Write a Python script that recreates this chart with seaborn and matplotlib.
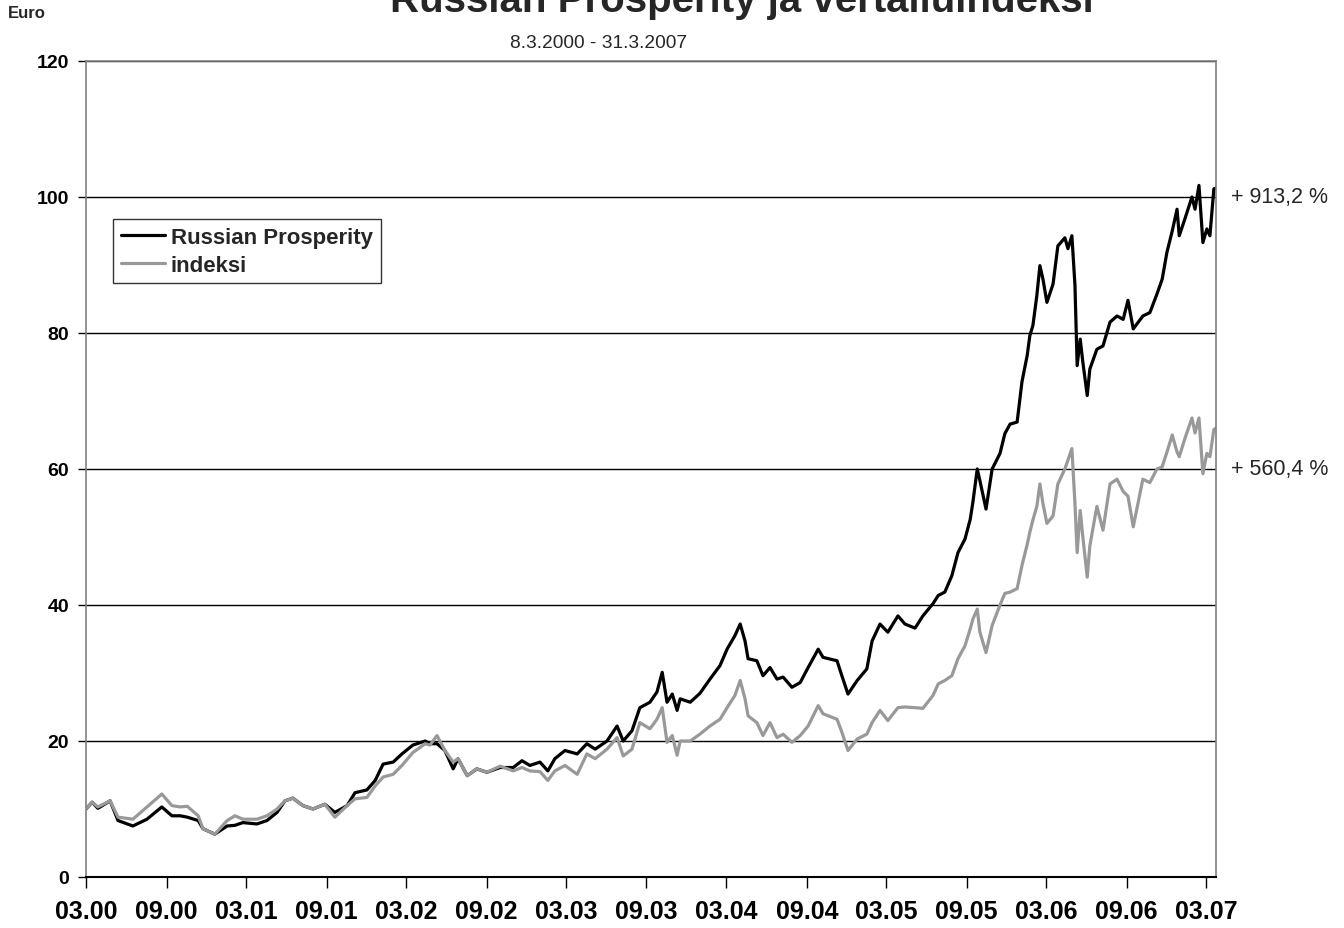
import matplotlib
matplotlib.use("Agg")
import matplotlib.pyplot as plt
import seaborn as sns
import pandas as pd

# days after 8.3.2000
day_offsets = [
    0, 14, 27, 55, 73, 107, 139, 173, 196, 215, 231, 256, 267, 294, 322, 340,
    358, 390, 413, 436, 454, 472, 495, 518, 545, 568, 596, 614, 641, 660, 678,
    701, 721, 746, 774, 785, 801, 819, 838, 849, 870, 892, 915, 945, 975, 995,
    1013, 1036, 1054, 1070, 1093, 1121, 1143, 1162, 1189, 1212, 1226, 1246,
    1264, 1287, 1303, 1315, 1326, 1338, 1349, 1356, 1379, 1401, 1424, 1447,
    1463, 1481, 1493, 1504, 1511, 1531, 1545, 1561, 1577, 1591, 1611, 1630,
    1648, 1671, 1682, 1714, 1725, 1739, 1760, 1782, 1794, 1812, 1830, 1853,
    1869, 1892, 1910, 1933, 1945, 1960, 1976, 1990, 2006, 2018, 2024, 2034,
    2040, 2054, 2068, 2086, 2097, 2109, 2125, 2136, 2148, 2154, 2161, 2170,
    2177, 2184, 2193, 2207, 2218, 2234, 2241, 2250, 2257, 2262, 2269, 2275,
    2285, 2291, 2307, 2321, 2337, 2353, 2367, 2378, 2390, 2412, 2428, 2444,
    2456, 2467, 2479, 2490, 2495, 2508, 2524, 2531, 2540, 2549, 2558, 2565,
    2574, 2579,
]
russian_prosperity = [
    10.0, 11.0, 10.1, 11.2, 8.3, 7.5, 8.5, 10.3, 9.0, 9.0, 8.8, 8.3, 7.1, 6.3,
    7.5, 7.6, 8.0, 7.8, 8.3, 9.5, 11.2, 11.6, 10.5, 10.0, 10.7, 9.5, 10.5,
    12.4, 12.8, 14.2, 16.6, 16.9, 18.1, 19.4, 20.0, 19.6, 19.6, 18.6, 15.9,
    17.4, 14.9, 15.9, 15.4, 16.1, 16.1, 17.1, 16.4, 16.9, 15.6, 17.4, 18.6,
    18.1, 19.6, 18.8, 20.0, 22.2, 20.0, 21.5, 24.9, 25.7, 27.2, 30.1, 25.7,
    26.9, 24.5, 26.2, 25.7, 27.0, 29.1, 31.1, 33.5, 35.5, 37.2, 34.7, 32.1,
    31.8, 29.6, 30.8, 29.1, 29.4, 27.9, 28.6, 30.8, 33.5, 32.3, 31.8, 29.6,
    26.9, 28.9, 30.6, 34.7, 37.2, 36.0, 38.4, 37.2, 36.6, 38.4, 40.2, 41.4,
    41.9, 44.3, 47.7, 49.7, 52.6, 55.1, 60.0, 58.3, 54.1, 60.0, 62.3, 65.2,
    66.6, 66.9, 72.8, 76.7, 79.6, 81.1, 85.5, 89.9, 87.9, 84.5, 87.2, 92.8,
    94.0, 92.4, 94.3, 87.0, 75.2, 79.1, 75.7, 70.8, 74.7, 77.6, 78.1, 81.6,
    82.5, 82.0, 84.8, 80.6, 82.5, 83.0, 85.7, 87.9, 91.9, 95.0, 98.2, 94.3,
    96.8, 100.0, 98.2, 101.7, 93.3, 95.3, 94.3, 101.2, 101.3,
]
indeksi = [
    10.0, 11.0, 10.3, 11.2, 8.8, 8.5, 10.3, 12.2, 10.5, 10.3, 10.4, 9.0, 7.1,
    6.3, 8.3, 9.0, 8.5, 8.5, 9.0, 10.0, 11.2, 11.6, 10.5, 10.0, 10.7, 8.8,
    10.5, 11.5, 11.7, 13.4, 14.7, 15.1, 16.4, 18.3, 19.6, 19.4, 20.8, 18.6,
    16.9, 17.4, 14.9, 15.9, 15.4, 16.3, 15.6, 16.1, 15.6, 15.5, 14.2, 15.6,
    16.4, 15.1, 18.1, 17.4, 18.8, 20.5, 17.8, 18.8, 22.7, 21.8, 23.2, 24.9,
    19.8, 20.8, 17.9, 20.0, 20.0, 21.0, 22.2, 23.2, 24.9, 26.7, 28.9, 26.2,
    23.7, 22.7, 20.8, 22.7, 20.5, 21.0, 19.8, 20.8, 22.2, 25.2, 24.0, 23.2,
    21.3, 18.6, 20.3, 21.0, 22.7, 24.5, 23.0, 24.9, 25.0, 24.9, 24.8, 26.7,
    28.4, 28.9, 29.6, 32.1, 34.0, 36.5, 37.9, 39.4, 36.0, 33.0, 37.0, 40.0,
    41.7, 41.9, 42.4, 45.8, 48.9, 50.7, 52.5, 54.5, 57.8, 54.9, 52.0, 53.1,
    57.8, 60.0, 61.3, 63.0, 54.9, 47.7, 53.9, 50.0, 44.1, 48.7, 54.5, 51.0,
    57.8, 58.5, 56.7, 56.0, 51.5, 58.5, 58.0, 60.0, 60.3, 62.5, 65.0, 62.5,
    61.8, 64.5, 67.5, 65.3, 67.5, 59.3, 62.3, 61.8, 65.8, 66.0,
]
series_names = ["Russian Prosperity", "indeksi"]
end_labels = ["+ 913,2 %", "+ 560,4 %"]
label_levels = [100, 60]

start = pd.Timestamp("2000-03-08")
end = pd.Timestamp("2007-03-31")
dates = start + pd.to_timedelta(day_offsets, unit="D")

df = pd.concat([
    pd.DataFrame({"date": dates, "value": russian_prosperity, "series": series_names[0]}),
    pd.DataFrame({"date": dates, "value": indeksi, "series": series_names[1]}),
])

sns.set_theme(style="white")
plt.rcParams["font.family"] = ["Liberation Sans", "DejaVu Sans"]

fig = plt.figure(figsize=(13.44, 9.29), dpi=100)
ax = fig.add_axes([0.064, 0.0549, 0.8408, 0.8784])

sns.lineplot(data=df, x="date", y="value", hue="series", hue_order=series_names,
             palette={series_names[0]: "black", series_names[1]: "#999999"},
             linewidth=2.3, ax=ax, estimator=None, sort=False)

ax.set_xlim(start, end)
ax.set_ylim(0, 120)
ax.set_yticks(range(0, 121, 20))
ax.yaxis.grid(True, color="black", linewidth=1.0)
ax.set_axisbelow(True)

tick_dates = [pd.Timestamp(2000 + i // 2, 3 if i % 2 == 0 else 9, 8) for i in range(15)]
ax.set_xticks(tick_dates)
ax.set_xticklabels([d.strftime("%m.%y") for d in tick_dates], fontsize=18, fontweight="bold")
for lab in ax.get_yticklabels():
    lab.set_fontsize(14)
    lab.set_fontweight("bold")
ax.tick_params(axis="x", direction="out", length=8, width=1, colors="black", pad=8, bottom=True)
ax.tick_params(axis="y", direction="out", length=6, width=1, colors="black", pad=6, left=True)
ax.set_xlabel("")
ax.set_ylabel("")

for side in ["top", "right", "left"]:
    ax.spines[side].set_color("#808080")
    ax.spines[side].set_linewidth(1.2)
ax.spines["bottom"].set_color("black")
ax.spines["bottom"].set_linewidth(1.5)

leg = ax.legend(loc="upper left", bbox_to_anchor=(0.024, 0.806), frameon=True,
                fancybox=False, edgecolor="black", handlelength=2.0, handletextpad=0.25,
                borderpad=0.35, labelspacing=0.3, borderaxespad=0,
                prop={"weight": "bold", "size": 16})
leg.get_frame().set_linewidth(1.0)

for text, level in zip(end_labels, label_levels):
    ax.annotate(text, xy=(1.0, level), xycoords=("axes fraction", "data"),
                xytext=(11, 0), textcoords="offset points", va="center", ha="left",
                fontsize=15.5)

# title sits partly above the canvas, as in the source image
fig.text(0.552, 0.987, "Russian Prosperity ja vertailuindeksi", ha="center",
         va="baseline", fontsize=29, fontweight="bold")
fig.text(0.006, 0.985, "Euro", ha="left", va="center", fontsize=12, fontweight="bold")
fig.text(0.445, 0.953, "8.3.2000 - 31.3.2007", ha="center", va="center", fontsize=13.8)

fig.savefig("out.png", dpi=100)
